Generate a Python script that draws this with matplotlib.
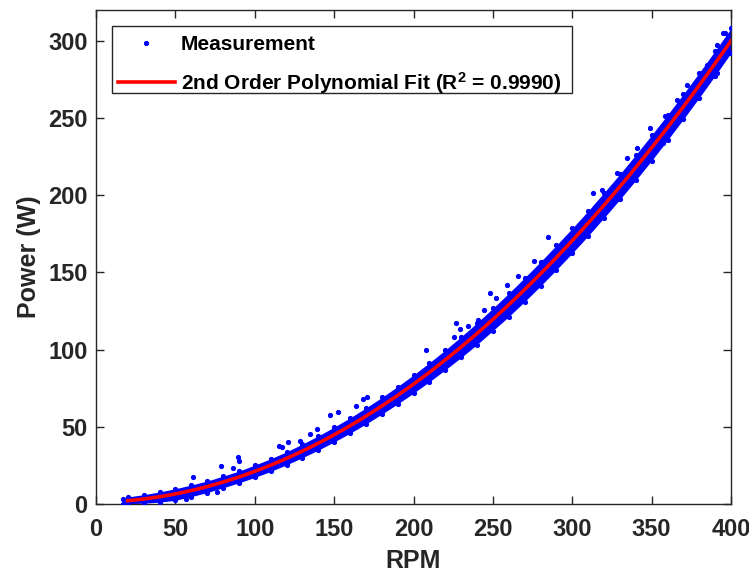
#!/usr/bin/env python3
"""Power versus RPM measurement with a 2nd order polynomial fit."""

from __future__ import annotations

import matplotlib as mpl

mpl.use("Agg")
import matplotlib.pyplot as plt
import numpy as np
from matplotlib.patches import Rectangle

BAND_RPM = [17, 20, 30, 40, 50, 60, 70, 80, 90, 100, 110, 120, 130, 140, 150, 160, 170, 180, 190,
            200, 210, 220, 230, 240, 250, 260, 270, 280, 290, 300, 310, 320, 330, 340, 350, 360,
            370, 380, 390, 400]
BAND_HIGH = [3.5, 4.6, 6.0, 7.8, 9.9, 12.3, 14.9, 18.0, 21.3, 25.2, 29.3, 33.8, 38.8, 44.1, 49.8,
             55.8, 62.2, 69.0, 76.1, 83.6, 91.5, 99.7, 108.4, 117.3, 126.8, 136.5, 146.6, 156.9,
             167.6, 178.6, 189.9, 201.7, 213.7, 226.2, 239.0, 252.1, 265.6, 279.4, 293.6, 308.2]
BAND_LOW = [0.3, 0.2, 0.5, 1.2, 2.4, 4.8, 7.4, 10.5, 13.7, 17.2, 21.1, 25.4, 30.0, 34.9, 40.2,
            45.8, 51.8, 58.2, 64.8, 71.8, 79.2, 86.9, 94.9, 103.3, 112.3, 121.4, 131.1, 141.2,
            151.7, 162.5, 173.7, 185.4, 197.3, 209.7, 222.5, 235.7, 249.3, 263.2, 277.5, 292.2]

# Isolated dots outside the dense band
OUTLIER_RPM = [61.2, 78.5, 86.3, 89.4, 90.3, 115.5, 117.0, 121.0, 128.7, 134.6, 139.4, 147.5,
               152.6, 163.5, 168.0, 171.0, 207.9, 225.5, 226.5, 229.3, 234.5, 240.8, 244.3, 248.0,
               252.2, 258.7, 265.6, 276.1, 281.8, 285.0, 313.3, 318.5, 328.0, 334.7, 340.6, 349.0,
               358.4, 365.8, 372.1, 384.7, 391.0, 394.7, 396.2, 76.0, 56.7, 357.4, 391.0]
OUTLIER_POWER = [17.5, 24.6, 23.3, 30.5, 27.9, 37.8, 36.7, 40.2, 40.9, 45.5, 48.4, 57.5, 59.8,
                 63.5, 67.8, 69.5, 99.8, 108.0, 117.3, 113.6, 115.4, 119.2, 125.7, 136.9, 133.3,
                 141.9, 147.8, 157.5, 156.8, 172.8, 201.3, 203.5, 214.7, 224.0, 230.5, 243.4, 251.4,
                 261.8, 271.5, 284.5, 297.4, 305.0, 305.4, 7.5, 3.0, 233.7, 279.3]

R2_TEXT = "0.9990"
X_TICKS = [0, 50, 100, 150, 200, 250, 300, 350, 400]
Y_TICKS = [0, 50, 100, 150, 200, 250, 300]

BLUE = "#0000ff"
RED = "#ff0000"
INK = "#262626"


def configure_matplotlib() -> None:
    mpl.rcParams.update(
        {
            "font.family": "Liberation Sans",
            "font.weight": "bold",
            "mathtext.fontset": "custom",
            "mathtext.rm": "Liberation Sans:bold",
            "mathtext.bf": "Liberation Sans:bold",
            "mathtext.it": "Liberation Sans:bold",
            "axes.linewidth": 1.0,
            "axes.edgecolor": INK,
        }
    )


def main() -> int:
    configure_matplotlib()
    fig = plt.figure(figsize=(7.49, 5.75), dpi=100)
    ax = fig.add_axes([0.1282, 0.1235, 0.8478, 0.8591])

    rpm = np.array(BAND_RPM, dtype=float)
    high = np.array(BAND_HIGH, dtype=float)
    low = np.array(BAND_LOW, dtype=float)

    # dense cloud
    ax.fill_between(rpm, low, high, color=BLUE, linewidth=0, zorder=2)
    meas_x = np.concatenate([rpm, rpm, OUTLIER_RPM])
    meas_y = np.concatenate([high, low, OUTLIER_POWER])
    ax.plot(meas_x, meas_y, ".", color=BLUE, markersize=5.5, zorder=3, label="Measurement")

    # quadratic fit of the measurement
    coeffs = np.polyfit(np.concatenate([rpm, rpm]), np.concatenate([high, low]), 2)
    fit_x = np.linspace(20, 400, 200)
    ax.plot(fit_x, np.polyval(coeffs, fit_x), color=RED, linewidth=2.6, zorder=4,
            label=f"2nd Order Polynomial Fit (R$^2$ = {R2_TEXT})")

    ax.set_xlim(0, 400)
    ax.set_ylim(0, 320)
    ax.set_xticks(X_TICKS)
    ax.set_yticks(Y_TICKS)
    ax.tick_params(direction="in", top=True, right=True, length=6, width=1.0,
                   labelsize=17, colors=INK)
    ax.tick_params(axis="x", pad=10)
    ax.tick_params(axis="y", pad=6)
    ax.set_xlabel("RPM", fontsize=18, fontweight="bold", color=INK, labelpad=6)
    ax.set_ylabel("Power (W)", fontsize=18, fontweight="bold", color=INK, labelpad=5)

    # legend entries without frame; box drawn separately so the mathtext row does not pad it
    ax.legend(loc="upper left", bbox_to_anchor=(0.0351, 0.9489), borderaxespad=0,
              fontsize=15, frameon=False, handlelength=2.7, handletextpad=0.3,
              labelspacing=0.75, borderpad=0.0)
    ax.add_patch(Rectangle((0.0252, 0.832), 0.7244, 0.1356, transform=ax.transAxes,
                           facecolor="white", edgecolor=INK, linewidth=1.0, zorder=5))
    ax.get_legend().set_zorder(6)

    fig.savefig("out.png", dpi=100)
    plt.close(fig)
    return 0


if __name__ == "__main__":
    raise SystemExit(main())
